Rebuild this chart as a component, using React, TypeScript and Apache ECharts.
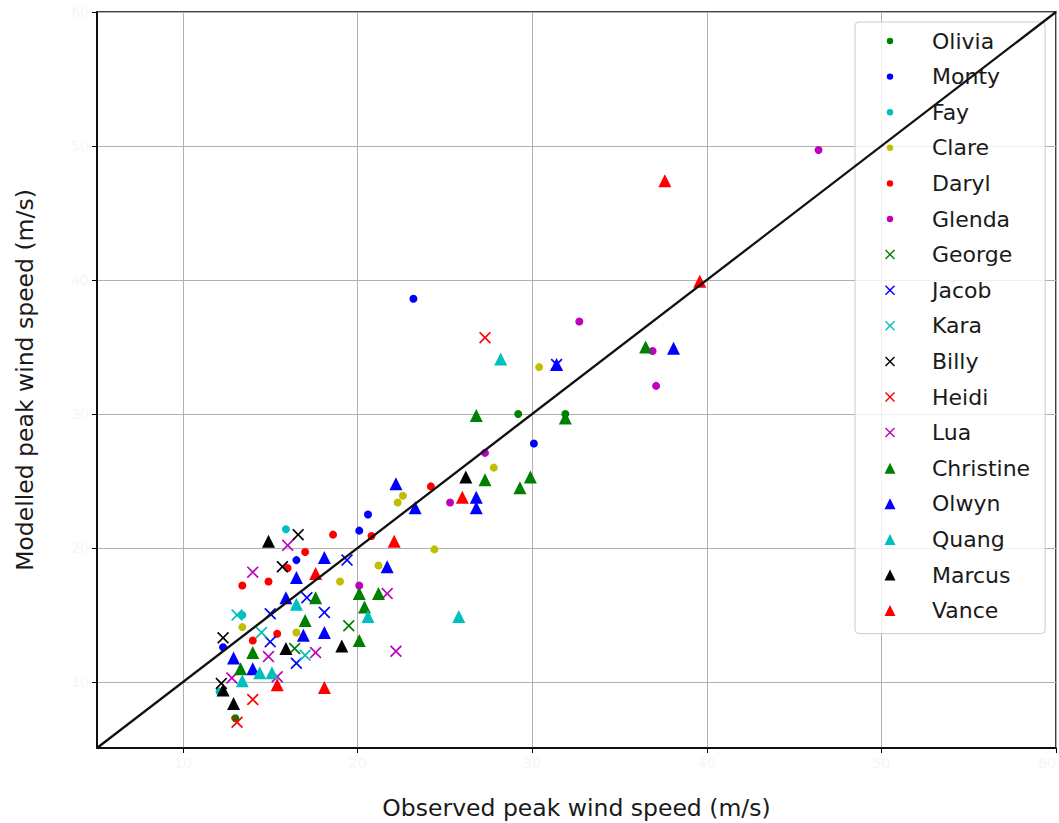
import React, { useEffect, useRef } from "react";
import * as echarts from "echarts";

// Observed vs modelled peak wind speed (m/s), one series per storm: [observed, modelled]
const olivia = [[29.2, 30.0], [31.9, 30.0], [13.0, 7.3]];
const monty = [[23.2, 38.6], [30.1, 27.8], [20.6, 22.5], [20.1, 21.3], [16.5, 19.1], [12.3, 12.6]];
const fay = [[15.9, 21.4], [13.4, 15.0], [12.1, 9.3]];
const clare = [[30.4, 33.5], [27.8, 26.0], [22.6, 23.9], [22.3, 23.4], [24.4, 19.9], [21.2, 18.7], [19.0, 17.5], [13.4, 14.1], [16.5, 13.7]];
const daryl = [[24.2, 24.6], [20.8, 20.9], [18.6, 21.0], [17.0, 19.7], [16.0, 18.5], [14.9, 17.5], [13.4, 17.2], [15.4, 13.6], [14.0, 13.1]];
const glenda = [[46.4, 49.7], [32.7, 36.9], [36.9, 34.7], [37.1, 32.1], [27.3, 27.1], [25.3, 23.4], [20.1, 17.2]];
const george = [[19.5, 14.2], [16.4, 12.5]];
const jacob = [[31.4, 33.7], [19.4, 19.1], [17.1, 16.3], [18.1, 15.2], [15.0, 15.1], [15.0, 13.0], [16.5, 11.4]];
const kara = [[13.1, 15.0], [14.5, 13.7], [17.0, 12.0]];
const billy = [[16.6, 21.0], [15.7, 18.6], [12.3, 13.3], [12.2, 9.9]];
const heidi = [[27.3, 35.7], [14.0, 8.7], [13.1, 7.0]];
const lua = [[16.0, 20.2], [14.0, 18.2], [21.7, 16.6], [22.2, 12.3], [17.6, 12.2], [14.9, 11.9], [12.8, 10.3], [15.4, 10.4]];
const christine = [[36.5, 35.0], [26.8, 29.9], [31.9, 29.7], [27.3, 25.1], [29.3, 24.5], [29.9, 25.3], [17.6, 16.3], [20.1, 16.6], [21.2, 16.6], [20.4, 15.6], [17.0, 14.6], [20.1, 13.1], [14.0, 12.2], [13.3, 11.0]];
const olwyn = [[38.1, 34.9], [31.4, 33.7], [26.8, 23.8], [26.8, 23.0], [23.3, 23.0], [22.2, 24.8], [21.7, 18.6], [18.1, 19.3], [16.5, 17.8], [15.9, 16.3], [18.1, 13.7], [16.9, 13.5], [12.9, 11.8], [14.0, 11.0]];
const quang = [[28.2, 34.1], [25.8, 14.9], [20.6, 14.9], [16.5, 15.8], [14.4, 10.7], [15.1, 10.7], [13.4, 10.1]];
const marcus = [[26.2, 25.3], [14.9, 20.5], [19.1, 12.7], [15.9, 12.5], [12.3, 9.4], [12.9, 8.4]];
const vance = [[37.6, 47.4], [39.6, 39.9], [26.0, 23.8], [22.1, 20.5], [17.6, 18.1], [15.4, 9.8], [18.1, 9.6]];

// Axis range and tick values (same for both axes)
const axisMin = 5.08;
const axisMax = 60;
const tickValues = [10, 20, 30, 40, 50, 60];

// One-to-one reference line
const identityLine = [[axisMin, axisMin], [axisMax, axisMax]];

const COLORS = {
  g: "#008000",
  b: "#0000ff",
  c: "#00bfbf",
  y: "#bfbf00",
  r: "#ff0000",
  m: "#bf00bf",
  k: "#000000",
};

const CROSS = "path://M1,0L5,4L9,0L10,1L6,5L10,9L9,10L5,6L1,10L0,9L4,5L0,1Z";

// Legend icons padded inside a 14x14 box so the markers keep their relative sizes
const ICON_DOT = "path://M0,0M14,14M3.8,7A3.2,3.2 0 1,0 10.2,7A3.2,3.2 0 1,0 3.8,7Z";
const ICON_CROSS = "path://M0,0M14,14M2,3L3,2L7,6L11,2L12,3L8,7L12,11L11,12L7,8L3,12L2,11L6,7Z";
const ICON_TRI = "path://M0,0M14,14M7,1.5L12.5,12.5L1.5,12.5Z";

type Kind = "dot" | "cross" | "tri";

const storms: { name: string; data: number[][]; color: string; kind: Kind }[] = [
  { name: "Olivia", data: olivia, color: COLORS.g, kind: "dot" },
  { name: "Monty", data: monty, color: COLORS.b, kind: "dot" },
  { name: "Fay", data: fay, color: COLORS.c, kind: "dot" },
  { name: "Clare", data: clare, color: COLORS.y, kind: "dot" },
  { name: "Daryl", data: daryl, color: COLORS.r, kind: "dot" },
  { name: "Glenda", data: glenda, color: COLORS.m, kind: "dot" },
  { name: "George", data: george, color: COLORS.g, kind: "cross" },
  { name: "Jacob", data: jacob, color: COLORS.b, kind: "cross" },
  { name: "Kara", data: kara, color: COLORS.c, kind: "cross" },
  { name: "Billy", data: billy, color: COLORS.k, kind: "cross" },
  { name: "Heidi", data: heidi, color: COLORS.r, kind: "cross" },
  { name: "Lua", data: lua, color: COLORS.m, kind: "cross" },
  { name: "Christine", data: christine, color: COLORS.g, kind: "tri" },
  { name: "Olwyn", data: olwyn, color: COLORS.b, kind: "tri" },
  { name: "Quang", data: quang, color: COLORS.c, kind: "tri" },
  { name: "Marcus", data: marcus, color: COLORS.k, kind: "tri" },
  { name: "Vance", data: vance, color: COLORS.r, kind: "tri" },
];

const FONT = "DejaVu Sans";

export default function App() {
  const ref = useRef<HTMLDivElement>(null);

  useEffect(() => {
    if (!ref.current) return;
    const chart = echarts.init(ref.current, null, { renderer: "svg" });

    const symbolFor = (k: Kind) => (k === "dot" ? "circle" : k === "cross" ? CROSS : "triangle");
    const sizeFor = (k: Kind) => (k === "dot" ? 8 : k === "cross" ? 12 : 13);
    const iconFor = (k: Kind) => (k === "dot" ? ICON_DOT : k === "cross" ? ICON_CROSS : ICON_TRI);

    const axisCommon = {
      type: "value" as const,
      min: axisMin,
      max: axisMax,
      splitLine: { show: false },
      axisLine: { lineStyle: { color: "#000", width: 1.5 } },
      axisTick: {
        show: true,
        inside: false,
        length: 5,
        customValues: tickValues,
        lineStyle: { color: "#000", width: 1 },
      },
      axisLabel: {
        customValues: tickValues,
        color: "#f6f6f6",
        fontFamily: FONT,
        fontSize: 14,
      },
      nameLocation: "middle" as const,
      nameTextStyle: { color: "#1a1a1a", fontFamily: FONT, fontSize: 23.5 },
    };

    chart.setOption({
      animation: false,
      backgroundColor: "#ffffff",
      grid: {
        left: 97,
        right: 3,
        top: 12,
        bottom: 75,
        outerBoundsMode: "none",
        containLabel: false,
        show: true,
        borderColor: "#000",
        borderWidth: 1.5,
        backgroundColor: "transparent",
      },
      xAxis: {
        ...axisCommon,
        axisLabel: { ...axisCommon.axisLabel, alignMaxLabel: "right" },
        name: "Observed peak wind speed (m/s)",
        nameGap: 48,
      },
      yAxis: { ...axisCommon, name: "Modelled peak wind speed (m/s)", nameGap: 60 },
      legend: {
        orient: "vertical",
        left: 855,
        top: 22,
        padding: [8, 15, 12, 28],
        itemWidth: 14,
        itemHeight: 14,
        itemGap: 13.6,
        backgroundColor: "rgba(255,255,255,0.8)",
        borderColor: "#cccccc",
        borderWidth: 1,
        borderRadius: 4,
        textStyle: {
          color: "#1a1a1a",
          fontFamily: FONT,
          fontSize: 22,
          lineHeight: 22,
          padding: [0, 0, 0, 30],
        },
        data: storms.map((s) => ({ name: s.name, icon: iconFor(s.kind) })),
      },
      series: [
        {
          name: "gridlines",
          type: "scatter",
          data: [],
          silent: true,
          markLine: {
            silent: true,
            z: 0,
            symbol: ["none", "none"],
            label: { show: false },
            lineStyle: { color: "#b0b0b0", width: 1, type: "solid" },
            emphasis: { disabled: true },
            data: [
              ...tickValues.map((v) => ({ xAxis: v })),
              ...tickValues.map((v) => ({ yAxis: v })),
            ],
          },
        },
        ...storms.map((s, i) => ({
          name: s.name,
          type: "scatter",
          data: s.data,
          symbol: symbolFor(s.kind),
          symbolSize: sizeFor(s.kind),
          itemStyle: { color: s.color, opacity: 1 },
          z: 3 + i * 0.01,
        })),
        {
          name: "1:1",
          type: "line",
          data: identityLine,
          symbol: "none",
          silent: true,
          z: 10,
          lineStyle: { color: "#111", width: 2.3 },
        },
      ],
    });

    return () => chart.dispose();
  }, []);

  return (
    <div
      ref={ref}
      style={{ position: "absolute", left: 0, top: 0, width: 1059, height: 823 }}
    />
  );
}
